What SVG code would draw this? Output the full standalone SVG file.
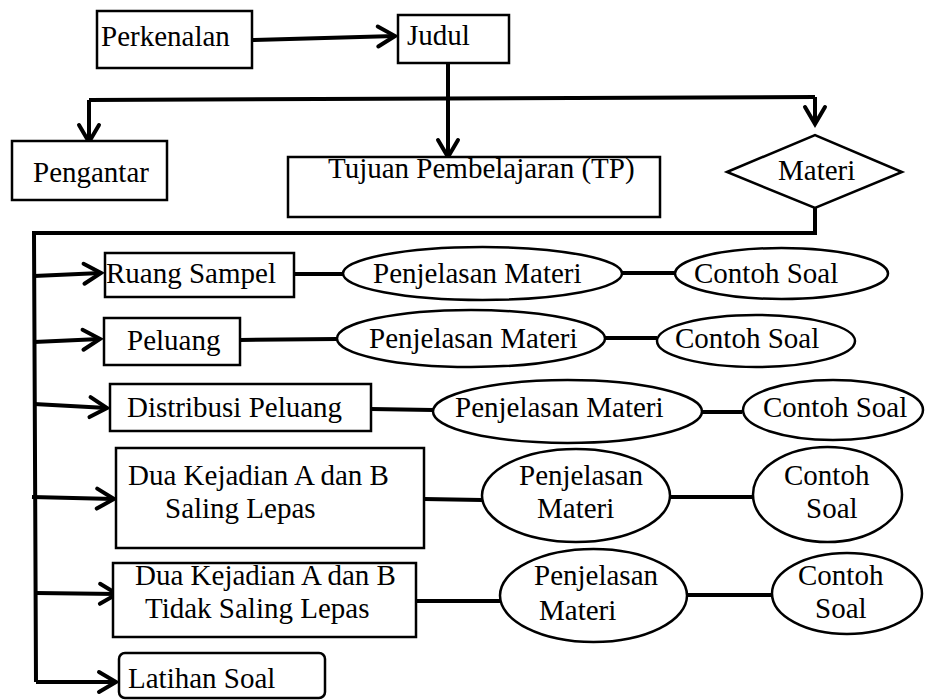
<svg xmlns="http://www.w3.org/2000/svg" width="925" height="700" viewBox="0 0 925 700">
<defs>
<marker id="arr" markerUnits="userSpaceOnUse" markerWidth="30" markerHeight="30" refX="0" refY="0" orient="auto" overflow="visible">
<path d="M-17,-10 L0,0 L-17,10" fill="none" stroke="#000" stroke-width="4" stroke-linejoin="miter" stroke-linecap="round"/>
</marker>
</defs>
<style>
.box{fill:#fff;stroke:#000;stroke-width:2.5}
.t{font-size:29px;fill:#000}
.c{fill:none;stroke:#000;stroke-width:4}
.a{fill:none;stroke:#000;stroke-width:4;marker-end:url(#arr)}
</style>
<rect width="925" height="700" fill="#fff"/>
<g id="connectors">
<path class="a" d="M252,40 L395,36"/>
<path class="c" d="M448,63 L448,100"/>
<path class="a" d="M448,100 L448,157"/>
<path class="c" d="M89,100 L815,97"/>
<path class="a" d="M89,100 L89,142"/>
<path class="a" d="M815,97 L815,124"/>
<path class="c" d="M815,195 L815,233 L34,233 L36,682"/>
<path class="a" d="M34,276 L101,273"/>
<path class="a" d="M34,342 L100,339"/>
<path class="a" d="M34,404 L107,408"/>
<path class="a" d="M32,497 L114,499"/>
<path class="a" d="M36,593 L117,594"/>
<path class="a" d="M36,682 L116,682"/>
<path class="c" d="M294,274 L343,274"/>
<path class="c" d="M622,273 L675,273"/>
<path class="c" d="M240,340 L337,339"/>
<path class="c" d="M605,338 L657,338"/>
<path class="c" d="M371,409 L433,410"/>
<path class="c" d="M702,412 L742,412"/>
<path class="c" d="M424,499 L482,500"/>
<path class="c" d="M670,497 L753,497"/>
<path class="c" d="M416,601 L500,601"/>
<path class="c" d="M687,595 L772,595"/>
</g>
<g font-family="'Liberation Serif', 'Times New Roman', Times, 'DejaVu Serif', serif">
<g id="perkenalan"><rect class="box" x="97" y="11" width="155" height="57"/><text class="t" x="101" y="46">Perkenalan</text></g>
<g id="judul"><rect class="box" x="398" y="15" width="111" height="48"/><text class="t" x="407" y="45">Judul</text></g>
<g id="pengantar"><rect class="box" x="12" y="141" width="155" height="59"/><text class="t" x="33" y="182">Pengantar</text></g>
<g id="tujuan"><rect class="box" x="288" y="157" width="372" height="60"/><text class="t" x="328" y="178">Tujuan Pembelajaran (TP)</text></g>
<g id="materi"><polygon class="box" points="727,172 815,135 902,172 815,208"/><text class="t" x="778" y="180">Materi</text></g>
<g id="ruang-sampel"><rect class="box" x="105" y="253" width="189" height="44"/><text class="t" x="106" y="283">Ruang Sampel</text></g>
<g id="pm1"><ellipse class="box" cx="482.5" cy="273.5" rx="139.5" ry="26.5"/><text class="t" x="373" y="283">Penjelasan Materi</text></g>
<g id="cs1"><ellipse class="box" cx="781.5" cy="273.5" rx="106.5" ry="25.5"/><text class="t" x="694" y="283">Contoh Soal</text></g>
<g id="peluang"><rect class="box" x="104" y="318" width="136" height="47"/><text class="t" x="127" y="350">Peluang</text></g>
<g id="pm2"><ellipse class="box" cx="471" cy="338.5" rx="134" ry="28.5"/><text class="t" x="369" y="348">Penjelasan Materi</text></g>
<g id="cs2"><ellipse class="box" cx="756" cy="341" rx="99" ry="26"/><text class="t" x="675" y="348">Contoh Soal</text></g>
<g id="distribusi"><rect class="box" x="110" y="384" width="261" height="47"/><text class="t" x="127" y="417">Distribusi Peluang</text></g>
<g id="pm3"><ellipse class="box" cx="567.5" cy="411.5" rx="134.5" ry="31.5"/><text class="t" x="455" y="417">Penjelasan Materi</text></g>
<g id="cs3"><ellipse class="box" cx="833" cy="410" rx="90" ry="30"/><text class="t" x="763" y="417">Contoh Soal</text></g>
<g id="saling-lepas"><rect class="box" x="116" y="448" width="308" height="100"/><text class="t" x="128" y="485">Dua Kejadian A dan B</text><text class="t" x="165" y="518">Saling Lepas</text></g>
<g id="pm4"><ellipse class="box" cx="576" cy="495.5" rx="94" ry="46.5"/><text class="t" x="519" y="485">Penjelasan</text><text class="t" x="537" y="518">Materi</text></g>
<g id="cs4"><ellipse class="box" cx="827.5" cy="494.5" rx="74.5" ry="47.5"/><text class="t" x="784" y="485">Contoh</text><text class="t" x="806" y="518">Soal</text></g>
<g id="tidak-saling-lepas"><rect class="box" x="113" y="563" width="303" height="74"/><text class="t" x="135" y="585">Dua Kejadian A dan B</text><text class="t" x="145" y="618">Tidak Saling Lepas</text></g>
<g id="pm5"><ellipse class="box" cx="593.5" cy="595.5" rx="93.5" ry="46.5"/><text class="t" x="534" y="585">Penjelasan</text><text class="t" x="539" y="620">Materi</text></g>
<g id="cs5"><ellipse class="box" cx="847" cy="593.5" rx="75" ry="40.5"/><text class="t" x="798" y="585">Contoh</text><text class="t" x="815" y="618">Soal</text></g>
<g id="latihan"><rect class="box" x="119" y="653" width="206" height="45" rx="6"/><text class="t" x="128" y="688">Latihan Soal</text></g>
</g>
</svg>
